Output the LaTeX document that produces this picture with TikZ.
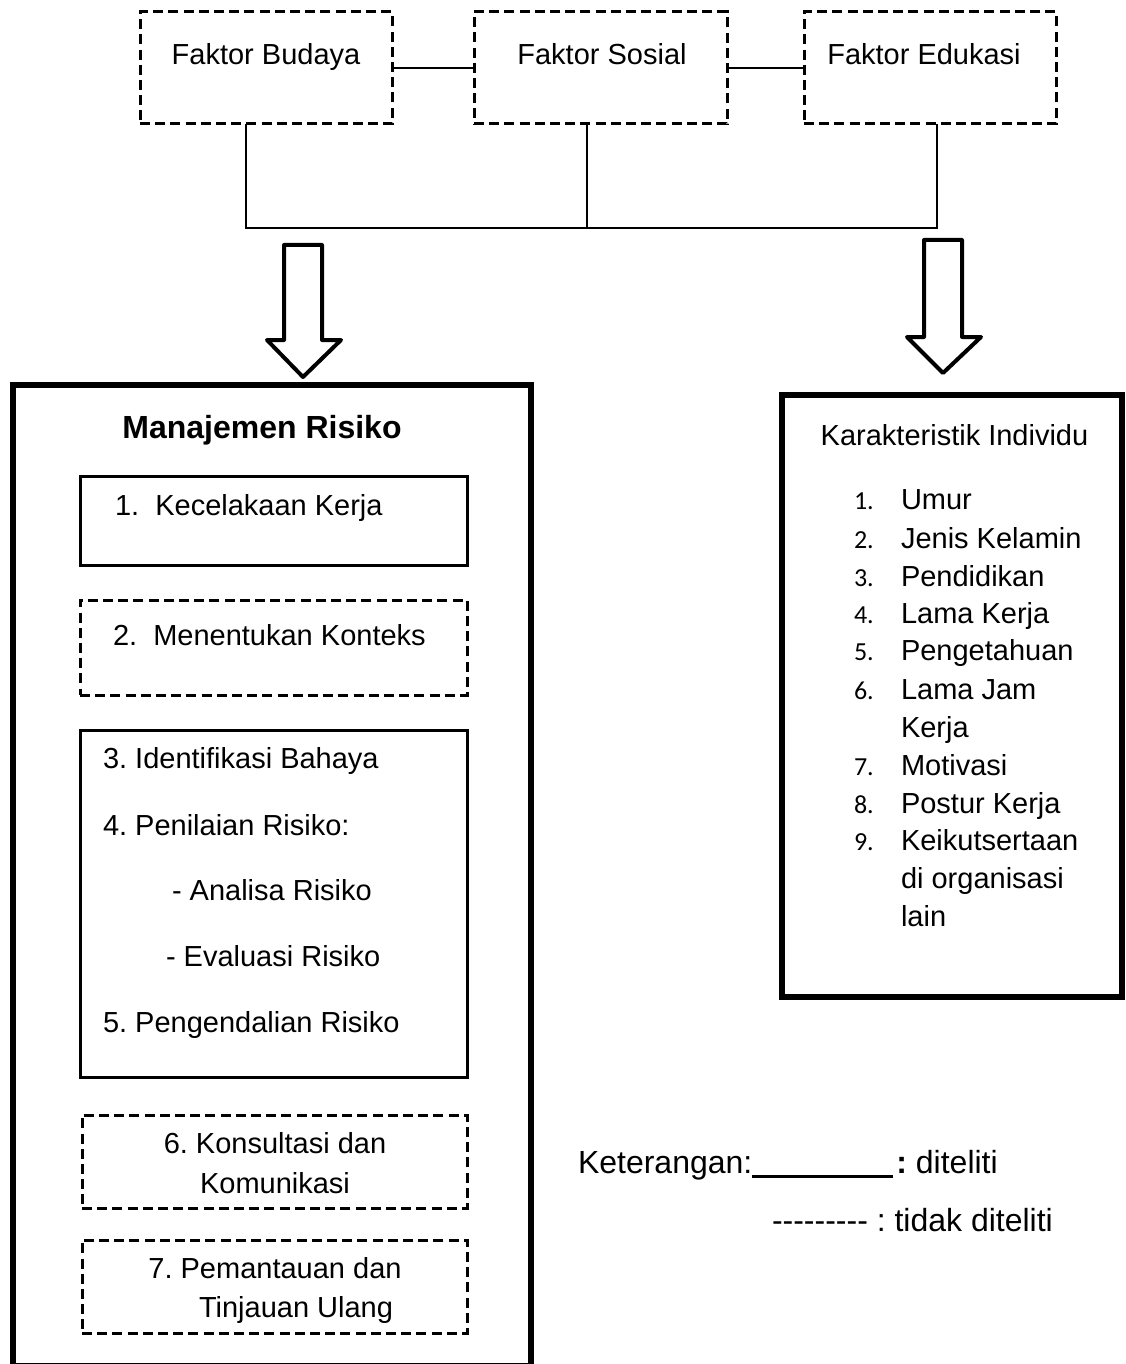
\documentclass[tikz,border=0pt]{standalone}
\usepackage{fontspec}
\setmainfont{Liberation Sans}
\newfontfamily\numfont{Carlito}
\usetikzlibrary{calc}
\newcommand{\hy}{\mbox{-}}
\frenchspacing
\begin{document}
\begin{tikzpicture}[x=0.5pt,y=-0.5pt,
  every node/.style={inner sep=0pt, outer sep=0pt, font=\fontsize{14.5}{17}\selectfont},
  dbox/.style={draw, line width=1.5pt, dash pattern=on 5pt off 2.6pt, rectangle},
  sbox/.style={draw, line width=1.5pt, rectangle},
  conn/.style={line width=0.75pt},
  barrow/.style={draw, line width=2pt, line join=round},
  txt/.style={anchor=base west},
  ctxt/.style={anchor=base},
  numtxt/.style={anchor=base west, font=\numfont\fontsize{13}{15}\selectfont},
  leg/.style={anchor=base west, font=\fontsize{16}{19}\selectfont},
]
\useasboundingbox (0,0) rectangle (1125,1364);

% top factor boxes
\node[dbox, minimum width=126pt, minimum height=56pt] (budaya) at (266,68) {};
\node[dbox, minimum width=126.5pt, minimum height=56pt] (sosial) at (600.5,68) {};
\node[dbox, minimum width=126pt, minimum height=56pt] (edukasi) at (930,68) {};
\node[ctxt] (tbudaya) at (266,65) {Faktor Budaya};
\node[ctxt] (tsosial) at (602,65) {Faktor Sosial};
\node[ctxt] (tedukasi) at (924,65) {Faktor Edukasi};

% connectors
\coordinate (bus) at (587,228);
\coordinate (vb) at ($(budaya.south)+(-20,0)$);
\coordinate (vs) at ($(sosial.south)+(-13.5,0)$);
\coordinate (ve) at ($(edukasi.south)+(7,0)$);
\draw[conn] (budaya.east) -- (sosial.west);
\draw[conn] (sosial.east) -- (edukasi.west);
\draw[conn] (vb) -- (vb |- bus) -- (ve |- bus) -- (ve);
\draw[conn] (vs) -- (vs |- bus);

% block arrows
\draw[barrow] (284,245) -- (322,245) -- (322,340) -- (341,340) -- (303,377)
  -- (267,340) -- (284,340) -- cycle;
\draw[barrow] (924,240) -- (962,240) -- (962,337) -- (981,337) -- (943,373)
  -- (907,337) -- (924,337) -- cycle;

% left main box
\node[draw, line width=3pt, minimum width=259pt, minimum height=490.5pt] (mr) at (272,875.5) {};
\node[ctxt, font=\bfseries\fontsize{16}{19}\selectfont] (mrtitle) at (262,438) {Manajemen Risiko};

\node[sbox, minimum width=193.5pt, minimum height=44.5pt] (b1) at (273.5,520.5) {};
\node[txt] (t1) at (115,515) {1.\ \ Kecelakaan Kerja};

\node[dbox, minimum width=193.5pt, minimum height=47.5pt] (b2) at (273.5,647.5) {};
\node[txt] (t2) at (113,645) {2.\ \ Menentukan Konteks};

\node[sbox, minimum width=193.5pt, minimum height=173.5pt] (b3) at (273.5,903.5) {};
\node[txt] (t3) at (103,768) {3. Identifikasi Bahaya};
\node[txt] (t4) at (103,835) {4. Penilaian Risiko:};
\node[txt] (t4a) at (172,900) {- Analisa Risiko};
\node[txt] (t4b) at (166,966) {- Evaluasi Risiko};
\node[txt] (t5) at (103,1032) {5. Pengendalian Risiko};

\node[dbox, minimum width=192.5pt, minimum height=46.5pt] (b6) at (274.5,1161.5) {};
\node[ctxt] (t6a) at (275,1153) {6. Konsultasi dan};
\node[ctxt] (t6b) at (275,1193) {Komunikasi};

\node[dbox, minimum width=192.5pt, minimum height=46.5pt] (b7) at (274.5,1286.5) {};
\node[ctxt] (t7a) at (275,1278) {7. Pemantauan dan};
\node[ctxt] (t7b) at (296,1317) {Tinjauan Ulang};

% right box
\node[draw, line width=3pt, minimum width=170pt, minimum height=301pt] (ki) at (952,696) {};
\node[ctxt] (kititle) at (954.5,445) {Karakteristik Individu};
\foreach \n/\t/\y in {1/Umur/509, 2/Jenis Kelamin/548, 3/Pendidikan/586, 4/Lama Kerja/623,
  5/Pengetahuan/660, 6/Lama Jam/699, 7/Motivasi/775, 8/Postur Kerja/813, 9/Keikutsertaan/850}{
  \node[numtxt] (num\n) at (854,\y) {\n.};
  \node[txt] (item\n) at (901,\y) {\t};
}
\node[txt] (item6b) at (901,737) {Kerja};
\node[txt] (item9b) at (901,888) {di organisasi};
\node[txt] (item9c) at (901,926) {lain};

% legend
\node[leg] (ket1) at (578,1173) {Keterangan:\rule[-2.3pt]{70.5pt}{1.5pt}\hspace{1.5pt}\textbf{:} diteliti};
\node[leg] (ket2) at (772,1231) {\hy\hy\hy\hy\hy\hy\hy\hy\hy\ : tidak diteliti};
\end{tikzpicture}
\end{document}
